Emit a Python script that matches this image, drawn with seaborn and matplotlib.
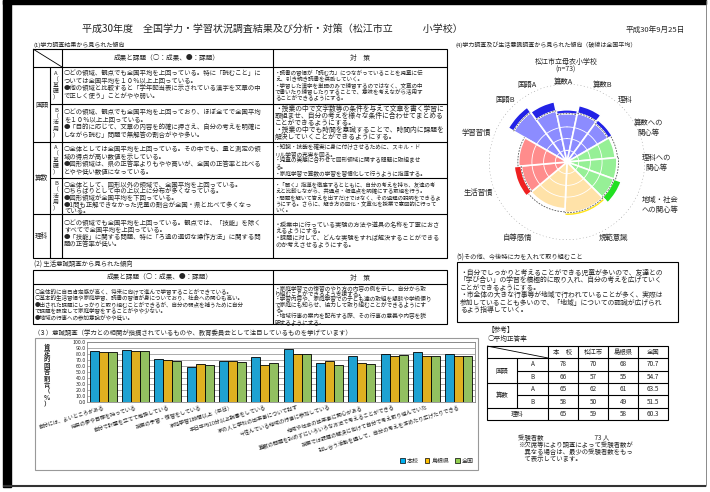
import numpy as np
import pandas as pd
import seaborn as sns
import matplotlib.pyplot as plt
from matplotlib.patches import Rectangle, Patch

# 意識調査（棒グラフ）のデータ
items = [
    "自分には、よいところがある",
    "将来の夢や目標を持っている",
    "自分で計画を立てて勉強している",
    "授業の予習・復習をしている",
    "家庭学習1時間以上（平日）",
    "平日平均10分以上読書をしている",
    "家の人と学校の出来事について話す",
    "今住んでいる地域の行事に参加している",
    "地域や社会の出来事に関心がある",
    "算数の問題を諦めずにいろいろな方法で考えることができる",
    "授業では課題の解決に向けて自分で考え取り組んでいた",
    "話し合う活動を通して、自分の考えを深めたり広げたりできる",
]
honkou = [85.3, 86.4, 71.2, 58.6, 68.3, 75.0, 88.4, 64.6, 76.2, 80.4, 83.0, 80.4]
shimane = [82.8, 85.1, 70.1, 63.4, 67.9, 61.4, 80.2, 68.3, 64.7, 77.5, 76.1, 76.3]
zenkoku = [82.9, 85.2, 68.0, 61.6, 66.2, 65.6, 80.3, 61.5, 63.0, 77.6, 76.1, 77.5]
groups = ["本校", "島根県", "全国"]

# レーダー（円グラフ風）のデータ：外側の点線円 = 100
radar_labels = ["国語B", "国語A", "算数A", "算数B", "理科",
                "算数への\n関心等", "理科への\n関心等", "地域・社会\nへの関心等",
                "規範意識", "自尊感情", "生活習慣", "学習習慣"]
radar_school = [87, 79, 67, 74, 67, 62, 64, 74, 69, 60, 68, 62]
radar_nation = [79, 67, 62, 64, 61, 65, 66, 64, 65, 64, 59, 63]

# 平均正答率の表
ref_cols = ["本　校", "松江市", "島根県", "全国"]
ref_rows = [("国語", "A"), ("", "B"), ("算数", "A"), ("", "B"), ("理科", "")]
ref_vals = [["78", "70", "68", "70.7"],
            ["66", "57", "55", "54.7"],
            ["65", "62", "61", "63.5"],
            ["58", "50", "49", "51.5"],
            ["65", "59", "58", "60.3"]]

sns.set_theme(style="white")
plt.rcParams['font.family'] = ['Noto Sans CJK JP', 'DejaVu Sans']

W, H = 710, 492
fig = plt.figure(figsize=(7.1, 4.92), dpi=100)
page = fig.add_axes([0, 0, 1, 1])
page.set_xlim(0, W)
page.set_ylim(H, 0)
page.axis('off')


def box(x0, y0, x1, y1):
    return [x0 / W, 1 - y1 / H, (x1 - x0) / W, (y1 - y0) / H]


def line(x0, y0, x1, y1, lw=0.8, c='black'):
    page.plot([x0, x1], [y0, y1], color=c, lw=lw, solid_capstyle='butt')


def rect(x0, y0, x1, y1, lw=0.8):
    page.add_patch(Rectangle((x0, y0), x1 - x0, y1 - y0, fill=False, ec='black', lw=lw))


def block(x, y0, step, lines, fs=4.6):
    for i, s in enumerate(lines):
        page.text(x, y0 + i * step, s, fontsize=fs, va='center', ha='left')


def vtext(x, yc, s, fs=4.6, step=6.5, **kw):
    n = len(s)
    for i, ch in enumerate(s):
        page.text(x, yc + (i - (n - 1) / 2) * step, ch, fontsize=fs, ha='center', va='center', **kw)


# 外枠
page.add_patch(Rectangle((3, 0), 703, 4, color='black'))
page.add_patch(Rectangle((3, 0), 8, 487, color='black'))
line(3, 485.5, 706, 485.5, lw=1.5, c='#333333')
line(706, 0, 706, 486, lw=0.6, c='#777777')

# タイトル
page.text(272, 29, "平成30年度　全国学力・学習状況調査結果及び分析・対策（松江市立　　　小学校）",
          fontsize=7.2, ha='center', va='center')
page.text(655, 30, "平成30年9月25日", fontsize=5.5, ha='center', va='center')

# (1) 学力調査
page.text(34, 45, "(1)学力調査結果から見られた傾向", fontsize=4.3, va='center')
rect(33, 49, 447, 258)
line(33, 67, 447, 67)
line(33, 49, 62, 67, lw=0.6)
line(50, 67, 50, 258)
line(62, 49, 62, 258)
line(273, 49, 273, 258)
line(50, 104, 447, 104)
line(33, 142, 447, 142)
line(50, 178, 447, 178)
line(33, 214, 447, 214)
page.text(167, 58, "成果と課題（○：成果、●：課題）", fontsize=4.8, ha='center', va='center')
page.text(360, 58, "対　策", fontsize=4.8, ha='center', va='center')

page.text(41.5, 104.5, "国語", fontsize=4.8, ha='center', va='center')
page.text(41.5, 178, "算数", fontsize=4.8, ha='center', va='center')
page.text(41.5, 236, "理科", fontsize=4.8, ha='center', va='center')
vtext(56, 85.5, "A（基礎）", fs=4.2, step=6.2)
vtext(56, 123, "B（活用）", fs=4.2, step=6.2)
vtext(56, 160, "A（基礎）", fs=4.2, step=6.2)
vtext(56, 196, "B（活用）", fs=4.2, step=6.2)

block(64, 73, 7.5, [
    "○どの領域、観点でも全国平均を上回っている。特に「読むこと」に",
    "ついては全国平均を１０％以上上回っている。",
    "●他の領域と比較すると「学年配当表に示されている漢字を文章の中",
    "で正しく使う」ことがやや弱い。"])
block(64, 112, 7.6, [
    "○どの領域、観点でも全国平均を上回っており、ほぼ全てで全国平均",
    "を１０％以上上回っている。",
    "●「目的に応じて、文章の内容を的確に押さえ、自分の考えを明確に",
    "しながら読む」問題で無解答の割合がやや多い。"])
block(64, 149, 7.6, [
    "○全体としては全国平均を上回っている。その中でも、量と測定の領",
    "域の得点が高い数値を示している。",
    "●図形領域は、県の正答率よりもやや高いが、全国の正答率と比べる",
    "とやや低い数値になっている。"])
block(64, 184.5, 6.7, [
    "○全体として、図形以外の領域で、全国平均を上回っている。",
    "○ちらばりとして中の上以上に分布が多くなっている。",
    "●図形領域が全国平均を下回っている。",
    "●1問も正解できなかった児童の割合が全国・県と比べて多くなっ",
    "ている。"])
block(64, 223, 7.0, [
    "○どの領域でも全国平均を上回っている。観点では、「技能」を除く",
    "すべてで全国平均を上回っている。",
    "●「技能」に関する問題、特に「ろ過の適切な操作方法」に関する問",
    "題の正答率が低い。"])

block(275, 72, 6.4, [
    "・読書の習慣が「読む力」につながっていることを児童に伝",
    "え、引き続き読書を奨励していく。",
    "・学習した漢字を単語のみで練習するのではなく、文章の中",
    "で書いたり練習したりすることで、意味を考えながら活用す",
    "ることができるようにする。"], fs=4.0)
block(275, 109, 7.0, [
    "・授業の中で文字数等の条件を与えて文章を書く学習に",
    "取組ませ、自分の考えを様々な条件に合わせてまとめる",
    "ことができるようにする。",
    "・授業の中でも時間を意識することで、時間内に課題を",
    "解決していくことができるようにする。"], fs=4.9)
block(275, 147.5, 6.6, [
    "・知識・技能を確実に身に付けさせるために、スキル・ド",
    "リル学習の充実を図る。",
    "・児童の実態に合わせて図形領域に関する問題に取組ませ",
    "る。",
    "・家庭学習で算数の学習を習慣化して行うように指導する。"], fs=4.1)
block(275, 184, 6.5, [
    "・「聞く」指導を徹底するとともに、自分の考えを持ち、友達の考",
    "えと比較しながら、共通点・相違点を明確にする取組を行う。",
    "・問題を解いて答えを出すだけではなく、その過程の説明をできるよ",
    "うにする。さらに、解き方の図化・文章化を授業で意図的に行って",
    "いく。"], fs=3.9)
block(275, 225, 6.7, [
    "・授業中に行っている実験の方法や道具の名称を丁寧におさ",
    "えるようにする。",
    "・課題に対して、どんな実験をすれば解決することができる",
    "のか考えさせるようにする。"], fs=4.4)

# (2) 生活意識調査
page.text(34, 265, "(2) 生活意識調査から見られた傾向", fontsize=4.6, va='center')
rect(33, 270, 447, 324)
line(33, 284, 447, 284)
line(273, 270, 273, 324)
page.text(160, 277.5, "成果と課題（○：成果、●：課題）", fontsize=4.8, ha='center', va='center')
page.text(360, 277.5, "対　策", fontsize=4.8, ha='center', va='center')
block(35, 292, 6.2, [
    "○全体的に自己肯定感が高く、将来に向けて進んで学習することができている。",
    "○基本的生活習慣や家庭学習、読書の習慣が身についており、社会への関心も高い。",
    "●出された課題にしっかりと取り組むことができるが、自分の弱点を補うために自分",
    "で課題を設定して家庭学習をすることがやや少ない。",
    "●地域の行事への参加意識がやや低い。"], fs=4.0)
block(275, 288, 5.65, [
    "・家庭学習での復習のやり方の内容の例を示し、自分から取",
    "り組むことができるよう支援する。",
    "・学習内容や、家庭学習での子ども達の取組を懇談や学級便り",
    "で家庭にも知らせ、協力して取り組むことができるようにす",
    "る。",
    "・地域行事の案内を配布する際、その行事の意義や内容を説",
    "明するようにする。"], fs=4.1)

# (3) 意識調査 棒グラフ
page.text(34, 333, "（３）意識調査（学力との相関が指摘されているものや、教育委員会として注目しているものを挙げています）",
          fontsize=4.6, va='center')
page.add_patch(Rectangle((35, 338), 443, 132, fill=False, ec='#999999', lw=0.8))

df = pd.DataFrame({
    "項目": items * 3,
    "割合": honkou + shimane + zenkoku,
    "区分": [g for g in groups for _ in items],
})
colors = ["#00B0F0", "#FFC000", "#92D050"]
bx = fig.add_axes(box(87, 342, 475, 402))
sns.barplot(data=df, x="項目", y="割合", hue="区分", hue_order=groups, palette=colors,
            edgecolor="black", linewidth=0.6, width=0.84, ax=bx, legend=False)
bx.set_ylim(0, 100)
bx.set_yticks(np.arange(0, 101, 10))
bx.set_yticklabels([f"{v:.1f}" for v in np.arange(0, 101, 10)], fontsize=3.8)
bx.yaxis.grid(True, color='#888888', lw=0.5)
bx.set_axisbelow(True)
bx.tick_params(axis='y', pad=1, length=0)
bx.tick_params(axis='x', pad=2, length=0)
bx.set_xticks(range(len(items)))
bx.set_xticklabels(items, rotation=17, ha='right', rotation_mode='anchor', fontsize=3.8)
bx.set_xlabel("")
bx.set_ylabel("")
for sp in bx.spines.values():
    sp.set_color('#888888')
    sp.set_linewidth(0.6)
vtext(47, 375, "肯定的回答割合（%）", fs=4.6, step=6.4, fontweight='bold')
fig.legend(handles=[Patch(fc=c, ec='black', lw=0.5) for c in colors], labels=groups,
           loc='center', bbox_to_anchor=(437 / W, 1 - 461 / H), ncol=3, fontsize=4.3,
           frameon=False, handlelength=0.8, handleheight=0.8, handletextpad=0.3,
           columnspacing=1.0)

# (4) レーダー
page.text(456, 45, "(4)学力調査及び生活意識調査から見られた傾向（破線は全国平均）", fontsize=4.3, va='center')
page.text(566, 62, "松江市立母衣小学校", fontsize=5, ha='center', va='center')
page.text(566, 70, "(n=73)", fontsize=5, ha='center', va='center')

widths = np.array([24] * 5 + [25] * 3 + [47.5] * 2 + [35] * 2)
starts = -60 + np.concatenate([[0], np.cumsum(widths)[:-1]])
centers = np.deg2rad(starts + widths / 2)
wrad = np.deg2rad(widths)
light = ["#8C8CFF"] * 5 + ["#96F096"] * 3 + ["#FFE2A8"] * 2 + ["#FF8C8C"] * 2
dark = ["#2222E6"] * 5 + ["#22E022"] * 3 + ["#FFE41A"] * 2 + ["#EE2020"] * 2

px = fig.add_axes(box(489, 84, 645, 240), projection='polar')
px.set_theta_zero_location('N')
px.set_theta_direction(-1)
px.set_ylim(0, 100)
px.set_axis_off()
base = np.minimum(radar_school, radar_nation)
px.bar(centers, base, width=wrad, color=light, edgecolor='white', linewidth=1.2, zorder=2)
over = np.array(radar_school) - np.array(radar_nation)
for t, w, n, o, c in zip(centers, wrad, radar_nation, over, dark):
    if o > 0:
        px.bar(t, o, width=w, bottom=n, color=c, edgecolor='white', linewidth=1.2, zorder=2)
tt = np.linspace(0, 2 * np.pi, 300)
for r in (15, 30, 45):
    px.plot(tt, np.full_like(tt, r), color='white', lw=0.6, zorder=3)
for t, w, n in zip(centers, wrad, radar_nation):
    th = np.linspace(t - w / 2, t + w / 2, 30)
    px.plot(th, np.full_like(th, n), color='#555555', lw=0.6, ls=(0, (2, 1.5)), zorder=4)
px.plot(tt, np.full_like(tt, 100), color='#888888', lw=0.7, ls=(0, (1, 2.5)), zorder=1)

label_pos = [(505, 100), (527, 85), (563, 82), (603, 85), (625, 100),
             (648, 128), (656, 163), (660, 205), (613, 238), (518, 238),
             (478, 193), (476, 133)]
for (x, y), s in zip(label_pos, radar_labels):
    page.text(x, y, s, fontsize=5.3, ha='center', va='center', linespacing=1.2,
              bbox=dict(fc='white', ec='none', pad=0.6))

# (5) その他
page.text(456, 258, "(5)その他、今後特に力を入れて取り組むこと", fontsize=4.5, va='center')
rect(457, 262, 678, 322)
block(460, 273, 7.4, [
    "・自分でしっかりと考えることができる児童が多いので、友達との",
    "「学び合い」の学習を積極的に取り入れ、自分の考えを広げていく",
    "ことができるようにする。",
    "・市全体の大きな行事等が地域で行われていることが多く、実際は",
    "参加していることも多いので、「地域」についての認識が広げられ",
    "るよう指導していく。"], fs=4.9)

# 参考 平均正答率
page.text(488, 330, "【参考】", fontsize=4.8, va='center')
page.text(488, 339, "○平均正答率", fontsize=4.8, va='center')
xs = [487, 517, 548, 578, 608, 638, 668]
ys = [346, 358, 371, 383, 395, 408, 420]
rect(487, 346, 668, 420)
for x in xs[2:-1]:
    line(x, 346, x, 420)
line(517, 358, 517, 408)
line(487, 358, 668, 358)
line(517, 371, 668, 371)
line(487, 383, 668, 383)
line(517, 395, 668, 395)
line(487, 408, 668, 408)
line(487, 346, 548, 358, lw=0.6)
for i, c in enumerate(ref_cols):
    page.text((xs[i + 2] + xs[i + 3]) / 2, 352, c, fontsize=4.6, ha='center', va='center')
for j, (subj, ab) in enumerate(ref_rows):
    yc = (ys[j + 1] + ys[j + 2]) / 2
    if subj == "理科":
        page.text(517.5, yc, subj, fontsize=4.6, ha='center', va='center')
    else:
        if subj:
            page.text(502, ys[j + 2], subj, fontsize=4.6, ha='center', va='center')
        page.text(532.5, yc, ab, fontsize=4.6, ha='center', va='center')
    for i, v in enumerate(ref_vals[j]):
        page.text((xs[i + 2] + xs[i + 3]) / 2, yc, v, fontsize=4.6, ha='center', va='center')

page.text(518, 438, "受験者数　　　　　　　　73 人", fontsize=4.6, va='center')
block(518, 445, 7.0, [
    "※欠席等により調査によって受験者数が",
    "　異なる場合は、最少の受験者数をもっ",
    "　て表示しています。"], fs=4.6)

fig.savefig("out.png", dpi=100, facecolor='white')
